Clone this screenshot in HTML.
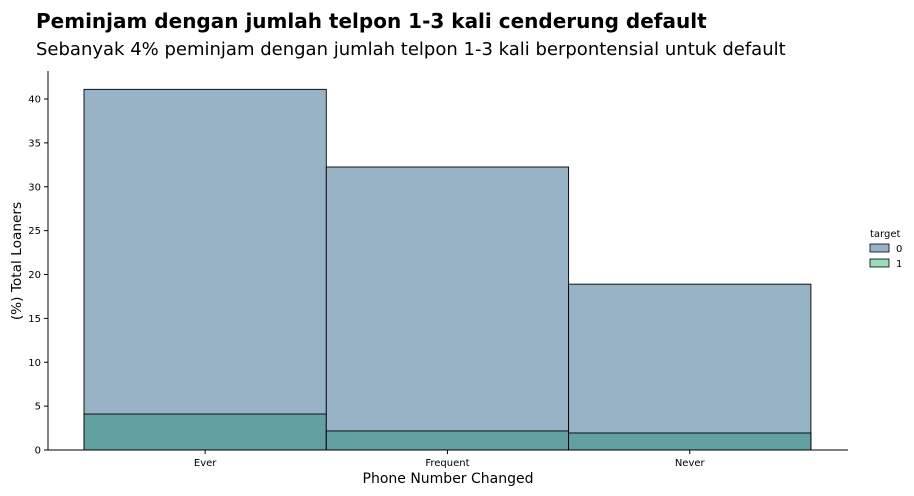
<!DOCTYPE html>
<html><head><meta charset="utf-8"><style>
body{margin:0;background:#fff;width:914px;height:492px;overflow:hidden;font-family:"DejaVu Sans","Liberation Sans",sans-serif}
</style></head><body>
<svg id="chart" width="914" height="492" xmlns="http://www.w3.org/2000/svg">
<text x="36" y="28" font-size="20" font-weight="bold" fill="#000">Peminjam dengan jumlah telpon 1-3 kali cenderung default</text>
<text x="36" y="55" font-size="18" fill="#000">Sebanyak 4% peminjam dengan jumlah telpon 1-3 kali berpontensial untuk default</text>
<g id="bars"></g>
<g id="axes"></g>
<text transform="translate(21,261) rotate(-90)" text-anchor="middle" font-size="13.7">(%) Total Loaners</text>
<text x="448" y="483" text-anchor="middle" font-size="14">Phone Number Changed</text>
<g>
<text x="870" y="237" font-size="10">target</text>
<rect x="870" y="244" width="19" height="8" fill="#98b3c6" stroke="#000" stroke-width="0.8"/>
<text x="896" y="252" font-size="10">0</text>
<rect x="870" y="259" width="19" height="8" fill="#98dbb8" stroke="#000" stroke-width="0.8"/>
<text x="896" y="267" font-size="10">1</text>
</g>
</svg>
<script>
const categories = ["Ever","Frequent","Never"];
const target0 = [41.1, 32.25, 18.9];
const target1 = [4.1, 2.17, 1.94];
const yTicks = [0,5,10,15,20,25,30,35,40];
const NS="http://www.w3.org/2000/svg";
const x0=84, bw=242.3, y0=450, k=8.775;
function xPos(i){return x0+i*bw;}
function yPos(v){return y0-v*k;}
const bars=document.getElementById('bars'), axes=document.getElementById('axes');
function mk(tag,attrs,parent){const e=document.createElementNS(NS,tag);for(const a in attrs)e.setAttribute(a,attrs[a]);parent.appendChild(e);return e;}
categories.forEach((c,i)=>{
  let r=mk('rect',{x:xPos(i),y:yPos(target0[i]),width:bw,height:target0[i]*k,fill:'#98b3c6',stroke:'#000','stroke-width':0.9},bars);
  
  
  let r2=mk('rect',{x:xPos(i),y:yPos(target1[i]),width:bw,height:target1[i]*k,fill:'#63a0a2',stroke:'#000','stroke-width':0.9},bars);
  
  
  let tk=mk('line',{x1:xPos(i)+bw/2,x2:xPos(i)+bw/2,y1:y0,y2:y0+4,stroke:'#000'},axes);
  
  
  let t=mk('text',{x:xPos(i)+bw/2,y:y0+16,'text-anchor':'middle','font-size':10},axes);
  t.textContent=c;
  
  
});
yTicks.forEach(v=>{
  let tk=mk('line',{x1:44,x2:48,y1:yPos(v),y2:yPos(v),stroke:'#000'},axes);
  
  
  let t=mk('text',{x:41,y:yPos(v)+3.5,'text-anchor':'end','font-size':10},axes);
  t.textContent=v;
  
  
});
let ax=mk('line',{x1:48,x2:48,y1:71,y2:y0,stroke:'#000'},axes);


let ax2=mk('line',{x1:48,x2:848,y1:y0,y2:y0,stroke:'#000'},axes);


</script>
</body></html>
